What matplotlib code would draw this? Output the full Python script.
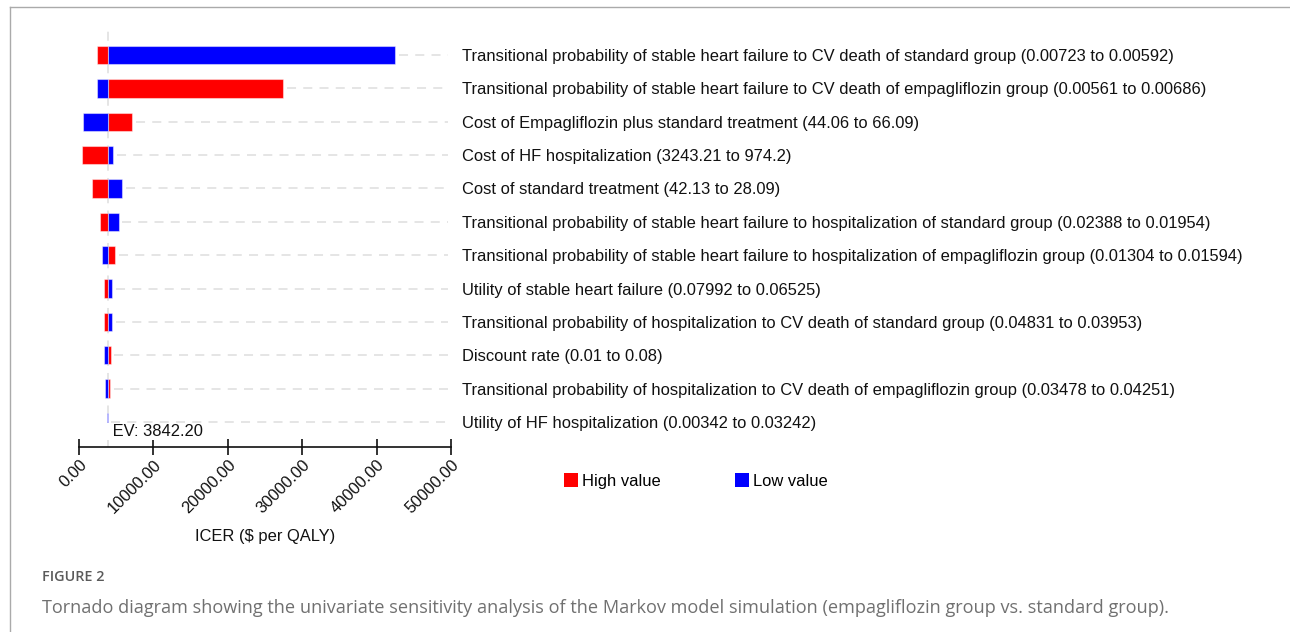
import matplotlib
matplotlib.use("Agg")
import matplotlib.pyplot as plt
from matplotlib.patches import Patch
from matplotlib.lines import Line2D

plt.rcParams["font.family"] = ["Liberation Sans", "DejaVu Sans"]

# parameters, top to bottom
params = [
    "Transitional probability of stable heart failure to CV death of standard group (0.00723 to 0.00592)",
    "Transitional probability of stable heart failure to CV death of empagliflozin group (0.00561 to 0.00686)",
    "Cost of Empagliflozin plus standard treatment (44.06 to 66.09)",
    "Cost of HF hospitalization (3243.21 to 974.2)",
    "Cost of standard treatment (42.13 to 28.09)",
    "Transitional probability of stable heart failure to hospitalization of standard group (0.02388 to 0.01954)",
    "Transitional probability of stable heart failure to hospitalization of empagliflozin group (0.01304 to 0.01594)",
    "Utility of stable heart failure (0.07992 to 0.06525)",
    "Transitional probability of hospitalization to CV death of standard group (0.04831 to 0.03953)",
    "Discount rate (0.01 to 0.08)",
    "Transitional probability of hospitalization to CV death of empagliflozin group (0.03478 to 0.04251)",
    "Utility of HF hospitalization (0.00342 to 0.03242)",
]
# ICER at high / low parameter value
icer_high = [2460, 27460, 7160, 400, 1790, 2820, 4840, 3360, 3360, 4260, 4170, 3850]
icer_low = [42470, 2460, 580, 4570, 5820, 5330, 3090, 4440, 4440, 3410, 3540, 3800]
ev = 3842.20
xticks = [0, 10000, 20000, 30000, 40000, 50000]

W, H = 1290, 632
fig = plt.figure(figsize=(W / 100, H / 100), dpi=100)

# axes placed in pixel terms
ax_l, ax_r, ax_t, ax_b = 79, 451, 30, 446.7
ax = fig.add_axes([ax_l / W, 1 - ax_b / H, (ax_r - ax_l) / W, (ax_b - ax_t) / H])

n = len(params)
ys = list(range(n))
bar_h = 0.55
fs = 11.9

# dashed guide lines to the right of each bar
for y, hi, lo in zip(ys, icer_high, icer_low):
    ax.plot([max(hi, lo, ev) + 500, xticks[-1] - 400], [y, y], color="#e3e3e3",
            lw=1.3, dashes=(5, 4), zorder=1)
ax.axvline(ev, color="#e3e3e3", lw=1.3, dashes=(5, 4), zorder=1)

for y, hi, lo in zip(ys, icer_high, icer_low):
    ax.barh(y, hi - ev, left=ev, height=bar_h, color="#ff0000",
            edgecolor=(1, 1, 1, 0.45), lw=0.8, zorder=3)
    ax.barh(y, lo - ev, left=ev, height=bar_h, color="#0000ff",
            edgecolor=(1, 1, 1, 0.45), lw=0.8, zorder=3)

ax.set_xlim(xticks[0], xticks[-1])
ax.set_ylim(n - 1 + 0.74, -0.75)

ax.set_xticks(xticks)
ax.set_xticklabels([f"{v:.2f}" for v in xticks], rotation=45, ha="right",
                   va="top", rotation_mode="anchor", fontsize=fs)
ax.tick_params(axis="x", direction="inout", length=11, width=1.2, pad=2, colors="#111111")

ax.set_yticks(ys)
ax.set_yticklabels(params, fontsize=fs, color="#111111")
ax.yaxis.tick_right()
ax.tick_params(axis="y", length=0, pad=8)

for s in ["top", "left", "right"]:
    ax.spines[s].set_visible(False)
ax.spines["bottom"].set_linewidth(1.2)
ax.spines["bottom"].set_color("#111111")

ax.set_xlabel("ICER ($ per QALY)", fontsize=fs, color="#111111", labelpad=9)

ax.text(ev, n - 1 + 0.28, f" EV: {ev:.2f}", ha="left", va="center",
        fontsize=fs, color="#111111", zorder=4,
        bbox=dict(facecolor="white", edgecolor="none", pad=0.5))

handles = [Patch(facecolor="#ff0000", label="High value"),
           Patch(facecolor="#0000ff", label="Low value")]
fig.legend(handles=handles, loc="center left", bbox_to_anchor=(564 / W, 1 - 481 / H),
           ncol=2, frameon=False, fontsize=fs, handlelength=0.85, handleheight=0.85,
           handletextpad=0.25, columnspacing=4.5, borderpad=0, borderaxespad=0)

# figure frame lines
fig.add_artist(Line2D([9.5 / W, 1], [1 - 7 / H, 1 - 7 / H], transform=fig.transFigure,
                      color="#aaaaaa", lw=1))
fig.add_artist(Line2D([9.5 / W, 9.5 / W], [0, 1 - 7 / H], transform=fig.transFigure,
                      color="#aaaaaa", lw=1))

fig.text(42 / W, 1 - 577 / H, "FIGURE 2", family="Open Sans", fontweight="semibold",
         fontsize=10.4, color="#5a5a5a", va="center", ha="left")
fig.text(42 / W, 1 - 608 / H,
         "Tornado diagram showing the univariate sensitivity analysis of the Markov model "
         "simulation (empagliflozin group vs. standard group).",
         family="Open Sans", fontsize=13.1, color="#707070", va="center", ha="left")

fig.savefig("out.png", dpi=100)
